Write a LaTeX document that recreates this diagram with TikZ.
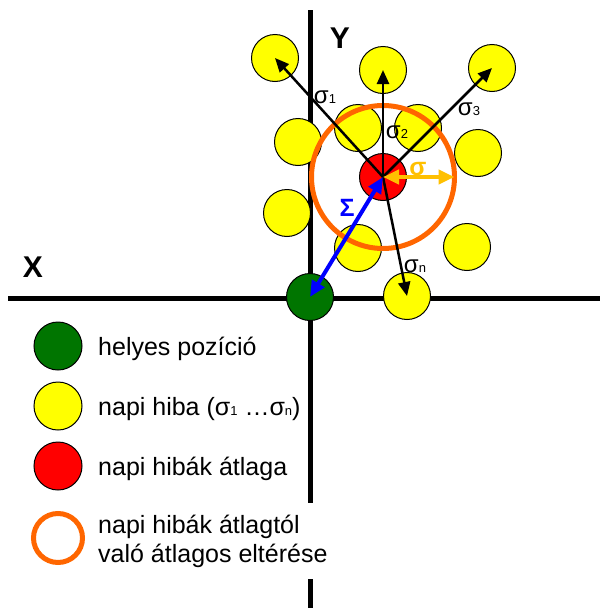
\documentclass[tikz,border=0pt]{standalone}
\usepackage{fontspec}
\setmainfont{Liberation Sans}
\usetikzlibrary{arrows.meta}
\definecolor{dgreen}{RGB}{0,117,0}
\definecolor{ringorange}{RGB}{255,102,0}
\definecolor{gold}{RGB}{255,192,0}
\definecolor{pyellow}{RGB}{255,255,0}
\definecolor{pred}{RGB}{255,0,0}
\definecolor{pblue}{RGB}{0,0,255}
\newcommand\subs[1]{{\fontsize{13}{13}\selectfont #1}}
\begin{document}
\begin{tikzpicture}[x=1pt,y=-1pt,
  dot/.style={circle,draw=black,line width=1pt,minimum size=47pt,inner sep=0pt},
  ydot/.style={dot,fill=pyellow},
  axisline/.style={line width=5pt},
  arr/.style={line width=2.5pt,-{Triangle[length=14pt,width=12pt]}},
  dblarr/.style={line width=4pt,{Triangle[length=16pt,width=14pt]}-{Triangle[length=16pt,width=14pt]}},
  sig/.style={font=\fontsize{24}{24}\selectfont,inner sep=0pt},
  axlbl/.style={font=\fontsize{30}{30}\selectfont\bfseries,inner sep=0pt},
  lbl/.style={font=\fontsize{25}{29}\selectfont,anchor=base west,inner sep=0pt},
  ring/.style={circle,draw=ringorange,line width=5pt,inner sep=0pt,outer sep=0pt}]
\useasboundingbox (0,0) rectangle (600,608);
% axes
\coordinate (xl) at (8,298);
\coordinate (xr) at (600,298);
\coordinate (yt) at (310,10);
\coordinate (yb) at (310,608);
\draw[axisline] (xl) -- (xr);
\draw[axisline] (yt) -- (yb);
\node[axlbl] (xlab) at (33,267) {X};
\node[axlbl] (ylab) at (340,38) {Y};
% yellow circles
\node[ydot] (y1) at (275,58) {};
\node[ydot] (y2) at (383,70) {};
\node[ydot] (y3) at (492,68) {};
\node[ydot] (y4) at (298,142) {};
\node[ydot] (y5) at (358,128) {};
\node[ydot] (y6) at (418,128) {};
\node[ydot] (y7) at (478,153) {};
\node[ydot] (y8) at (287,213) {};
\node[ydot] (y9) at (358,248) {};
\node[ydot] (y10) at (467,247) {};
\node[ydot] (yn) at (407,296) {};
% green
\node[dot,fill=dgreen] (g) at (310,297) {};
% orange ring and red mean
\node[ring,minimum size=143pt] (o) at (383,177) {};
\node[dot,fill=pred] (r) at (383,177) {};
% arrows
\draw[arr] (r.center) -- (y1.center);
\draw[arr] (r.center) -- (y2.center);
\draw[arr] (r.center) -- (y3.center);
\draw[arr] (r.center) -- (yn.center);
\draw[dblarr,pblue] (r.center) -- (g.center);
\draw[dblarr,gold] (r.center) -- (o.east);
% labels
\node[sig] (s1) at (325,97) {σ\subs{1}};
\node[sig] (s2) at (397,132) {σ\subs{2}};
\node[sig] (s3) at (469,109) {σ\subs{3}};
\node[sig] (sn) at (415,266) {σ\subs{n}};
\node[sig,font=\fontsize{25}{25}\selectfont\bfseries,text=pblue] (bigS) at (347,208) {Σ};
\node[sig,font=\fontsize{25}{25}\selectfont\bfseries,text=gold] (smallS) at (418,169) {σ};
% legend
\node[dot,fill=dgreen,minimum size=48pt] (lg) at (58,346) {};
\node[dot,fill=pyellow,minimum size=48pt] (ly) at (58,406) {};
\node[dot,fill=pred,minimum size=48pt] (lr) at (58,466) {};
\node[ring,minimum size=49pt] (lo) at (58,538) {};
\node[lbl] (t1) at (98,355) {helyes pozíció};
\node[lbl] (t2) at (98,415) {napi hiba (σ\subs{1} …σ\subs{n})};
\node[lbl] (t3) at (98,475) {napi hibák átlaga};
\node[font=\fontsize{25}{29}\selectfont,anchor=west,align=left,fill=white,inner xsep=3pt,inner ysep=12pt] (t4) at (95,541) {napi hibák átlagtól\\való átlagos eltérése};
\end{tikzpicture}
\end{document}
